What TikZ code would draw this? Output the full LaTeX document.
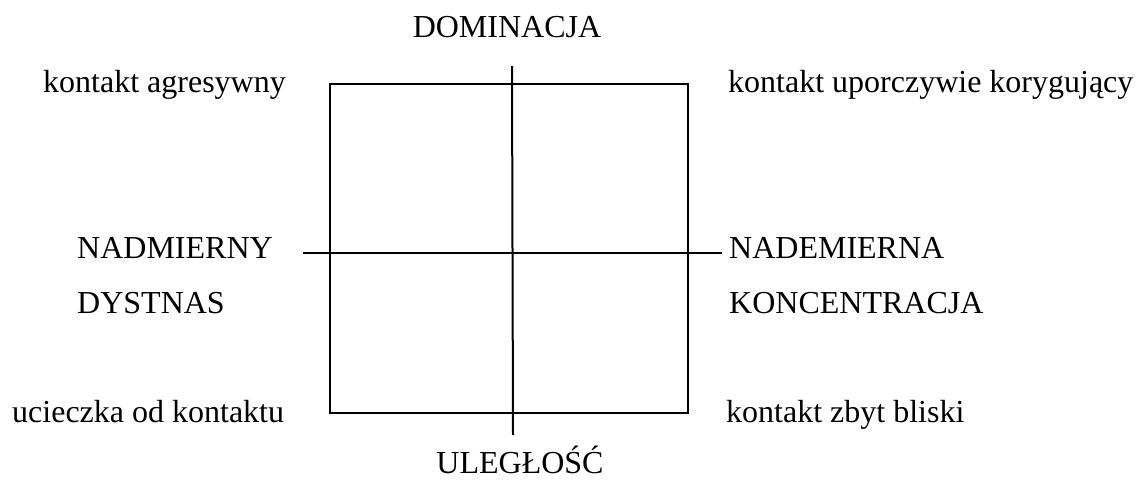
\documentclass[tikz,border=0pt]{standalone}
\usepackage{fontspec}
\setmainfont{Liberation Serif}
\begin{document}
\begin{tikzpicture}[x=1pt,y=-1pt,
  lbl/.style={inner sep=0pt,font=\fontsize{32}{36}\selectfont},
  lw/.style={lbl,anchor=base west},
  lc/.style={lbl,anchor=base},
  axis/.style={line width=2pt,black}]
\useasboundingbox (0,0) rectangle (1143,480);
% box and axes
\coordinate (tl) at (329.5,83.5);
\coordinate (br) at (688,413);
\coordinate (vt) at (512,66);
\coordinate (vb) at (513,435);
\coordinate (hl) at (303,253);
\coordinate (hr) at (722,253);
\draw[axis] (tl) rectangle (br);
\draw[axis] (vt) -- (vb);
\draw[axis] (hl) -- (hr);
% labels
\node[lc] (dom) at (507,37) {DOMINACJA};
\node[lc] (ule) at (520,473) {ULEGŁOŚĆ};
\node[lw] (ka) at (43,92) {kontakt agresywny};
\node[lw] (ku) at (728,92) {kontakt uporczywie korygujący};
\node[lw] (nd1) at (77,258) {NADMIERNY};
\node[lw] (nd2) at (77,313) {DYSTNAS};
\node[lw] (nk1) at (729,258) {NADEMIERNA};
\node[lw] (nk2) at (729,313) {KONCENTRACJA};
\node[lw] (uk) at (12,422) {ucieczka od kontaktu};
\node[lw] (kb) at (726,422) {kontakt zbyt bliski};
\end{tikzpicture}
\end{document}
